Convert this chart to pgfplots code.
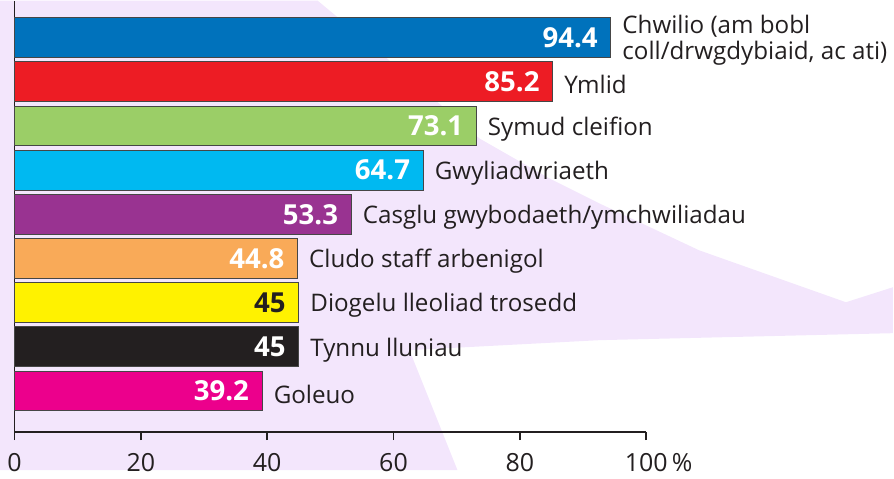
\documentclass[border=0pt]{standalone}
\usepackage{pgfplots}
\pgfplotsset{compat=1.18}
\usepackage{pgfplotstable}
\usepackage{fontspec}
\setmainfont{Open Sans}
\definecolor{cBlue}{RGB}{0,114,188}
\definecolor{cRed}{RGB}{237,28,36}
\definecolor{cGreen}{RGB}{155,206,103}
\definecolor{cCyan}{RGB}{0,185,241}
\definecolor{cPurple}{RGB}{153,51,145}
\definecolor{cOrange}{RGB}{249,170,88}
\definecolor{cYellow}{RGB}{255,242,0}
\definecolor{cBlack}{RGB}{35,31,32}
\definecolor{cPink}{RGB}{236,0,140}
\definecolor{lav}{RGB}{243,230,252}
\definecolor{txt}{RGB}{35,31,32}
\definecolor{bdr}{RGB}{70,70,70}

\pgfplotstableread[col sep=semicolon]{
y;v;lab
8;94.4;{Chwilio (am bobl\\coll/drwgdybiaid, ac ati)}
7;85.2;Ymlid
6;73.1;Symud cleifion
5;64.7;Gwyliadwriaeth
4;53.3;Casglu gwybodaeth/ymchwiliadau
3;44.8;Cludo staff arbenigol
2;45;Diogelu lleoliad trosedd
1;45;Tynnu lluniau
0;39.2;Goleuo
}\data

\pgfplotsset{
  mybar/.style={xbar, bar width=20pt, bar shift=0pt, fill=#1, draw=bdr, line width=0.5pt,
    nodes near coords, point meta=x,
    nodes near coords style={anchor=east, xshift=-3pt, text=white,
      font=\fontsize{13.8}{14}\selectfont\bfseries}},
}

\begin{document}
\begin{tikzpicture}
\begin{scope}[x=0.5pt,y=-0.5pt,shift={(-14.5,-432)}]
\useasboundingbox (0,0) rectangle (894,470);
\fill[lav] (0,0) -- (318,0) -- (390,60) -- (480,138) -- (550,178) -- (600,203) -- (700,250) -- (847,302) -- (894,287) -- (894,333) -- (600,340) -- (410,350) -- (458,470) -- (0,470) -- cycle;
\end{scope}
\begin{axis}[
  at={(0,0)}, anchor=south west,
  scale only axis, width=316.25pt, height=216pt,
  xmin=0, xmax=100, ymin=-0.93, ymax=8.84,
  axis x line*=bottom, axis y line*=left,
  x axis line style={line width=0.9pt, color=txt},
  y axis line style={line width=0.6pt, color=txt},
  xtick={0,20,40,60,80,100},
  xticklabels={0,20,40,60,80,100\rlap{\,\%}},
  ytick=\empty,
  tick align=outside, major tick length=4pt,
  x tick style={line width=0.9pt, color=txt},
  tick label style={font=\fontsize{12.5}{14}\selectfont, text=txt},
  xticklabel style={yshift=-3pt},
  /pgf/number format/assume math mode=true,
  clip=false,
]
\addplot[mybar=cBlue] coordinates {(94.4,8)};
\addplot[mybar=cRed] coordinates {(85.2,7)};
\addplot[mybar=cGreen] coordinates {(73.1,6)};
\addplot[mybar=cCyan] coordinates {(64.7,5)};
\addplot[mybar=cPurple] coordinates {(53.3,4)};
\addplot[mybar=cOrange] coordinates {(44.8,3)};
\addplot[mybar=cYellow, nodes near coords style={text=txt}] coordinates {(45,2)};
\addplot[mybar=cBlack] coordinates {(45,1)};
\addplot[mybar=cPink] coordinates {(39.2,0)};
\addplot[only marks, mark=none, point meta=explicit symbolic, nodes near coords,
  nodes near coords style={anchor=west, xshift=2.3pt, yshift=-1.5pt, align=left, text=txt,
    font=\fontsize{12.1}{13}\selectfont}]
  table[x=v, y=y, meta=lab] {\data};
\end{axis}
\end{tikzpicture}
\end{document}
